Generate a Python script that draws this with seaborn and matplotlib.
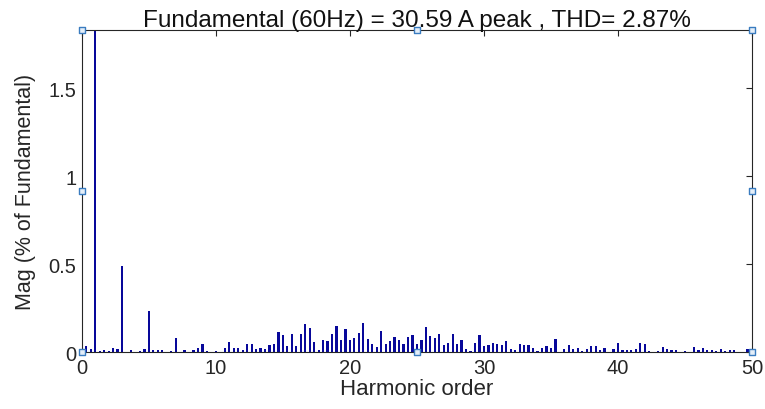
import numpy as np
import matplotlib
matplotlib.use("Agg")
import matplotlib.pyplot as plt
import seaborn as sns

sns.set_style("white")
plt.rcParams['font.family'] = ['Liberation Sans', 'DejaVu Sans']

# FFT bins every 1/3 harmonic (20 Hz resolution), 0..50th harmonic
order = np.arange(151) / 3
mag = [
    0.0, 0.034, 0.019, 100.0, 0.008, 0.013, 0.008, 0.023, 0.019, 0.488,
    0.0, 0.013, 0.002, 0.008, 0.015, 0.234, 0.013, 0.013, 0.013, 0.0,
    0.008, 0.081, 0.0, 0.013, 0.0, 0.013, 0.021, 0.045, 0.008, 0.0,
    0.004, 0.0, 0.025, 0.059, 0.021, 0.025, 0.013, 0.043, 0.047, 0.019,
    0.025, 0.019, 0.038, 0.047, 0.115, 0.096, 0.034, 0.100, 0.034, 0.104,
    0.161, 0.136, 0.059, 0.013, 0.070, 0.064, 0.100, 0.146, 0.070, 0.132,
    0.070, 0.079, 0.110, 0.166, 0.076, 0.047, 0.028, 0.121, 0.047, 0.064,
    0.085, 0.070, 0.043, 0.085, 0.096, 0.047, 0.070, 0.142, 0.091, 0.079,
    0.100, 0.038, 0.053, 0.100, 0.043, 0.070, 0.019, 0.008, 0.053, 0.096,
    0.034, 0.038, 0.053, 0.047, 0.038, 0.064, 0.019, 0.013, 0.043, 0.038,
    0.038, 0.025, 0.008, 0.025, 0.034, 0.025, 0.076, 0.0, 0.019, 0.040,
    0.019, 0.025, 0.008, 0.019, 0.034, 0.034, 0.013, 0.025, 0.0, 0.019,
    0.049, 0.009, 0.013, 0.013, 0.019, 0.049, 0.043, 0.008, 0.0, 0.008,
    0.028, 0.019, 0.013, 0.013, 0.0, 0.008, 0.0, 0.028, 0.013, 0.025,
    0.013, 0.013, 0.008, 0.019, 0.008, 0.013, 0.013, 0.0, 0.0, 0.019, 0.004,
]
xticks = [0, 10, 20, 30, 40, 50]
yticks = [0, 0.5, 1, 1.5]
ytick_labels = ['0', '0.5', '1', '1.5']

fig = plt.figure(figsize=(7.65, 4.10), dpi=100)
ax = fig.add_axes([0.107, 0.139, 0.876, 0.785])

sns.barplot(x=order, y=mag, native_scale=True, width=0.5, color='#08089a',
            saturation=1, errorbar=None, ax=ax, linewidth=0)

ax.set_xlim(0, 50)
ax.set_ylim(0, 1.83)
ax.set_xticks(xticks)
ax.set_xticklabels([str(t) for t in xticks])
ax.set_yticks(yticks)
ax.set_yticklabels(ytick_labels)
ax.tick_params(direction='in', length=4, width=0.8, colors='#262626',
               labelsize=14.5, top=True, right=True, pad=4)
for s in ax.spines.values():
    s.set_color('#262626')
    s.set_linewidth(0.8)

ax.set_xlabel('Harmonic order', fontsize=16, color='#262626', labelpad=1)
ax.set_ylabel('Mag (% of Fundamental)', fontsize=15.5, color='#262626', labelpad=9)
ax.set_title('Fundamental (60Hz) = 30.59 A peak , THD= 2.87%', fontsize=17.5,
             color='#111111', pad=3)

# MATLAB edit-mode selection handles
ax.scatter([0, 0.5, 1, 0, 1, 0, 0.5, 1], [0, 0, 0, 0.5, 0.5, 1, 1, 1],
           transform=ax.transAxes, marker='s', s=22, facecolor='#e4eef8',
           edgecolor='#3a7cc0', linewidth=1, clip_on=False, zorder=5)

plt.savefig('out.png', dpi=100)
